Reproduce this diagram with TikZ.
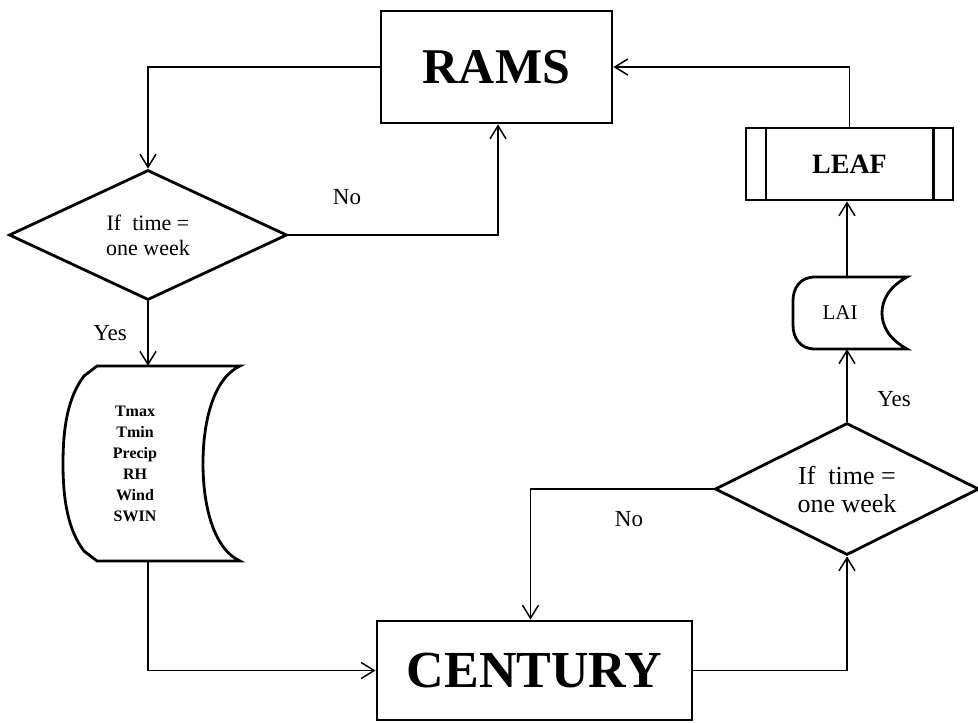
\documentclass[tikz,border=0pt]{standalone}
\usepackage{fontspec}
\setmainfont{Liberation Serif}
\usetikzlibrary{arrows.meta,shapes.geometric}
\begin{document}
\begin{tikzpicture}[x=1pt,y=-1pt,
  >={Straight Barb[length=13pt,width=16pt,line width=1.5pt]},
  conn/.style={line width=1.5pt,->},
  procbox/.style={draw,line width=2.8pt,rectangle,inner sep=0pt},
  decision/.style={draw,line width=2.8pt,diamond,aspect=2.1,inner sep=0pt,align=center},
  shapeline/.style={draw,line width=2.8pt,line join=miter},
  lbl/.style={font=\fontsize{23}{26}\selectfont,inner sep=0pt}]
\useasboundingbox (0,0) rectangle (978,723);

% nodes
\node[procbox,minimum width=231pt,minimum height=112pt,font=\fontsize{50}{54}\selectfont\bfseries] (rams) at (496.5,67) {RAMS};
\node[procbox,minimum width=315pt,minimum height=99pt,font=\fontsize{52}{56}\selectfont\bfseries] (century) at (534.5,670.5) {CENTURY};
\node[decision,minimum width=278pt,minimum height=130pt,font=\fontsize{22}{25}\selectfont] (d1) at (148,235) {If\ \ time =\\one week};
\node[decision,minimum width=264pt,minimum height=132pt,font=\fontsize{26}{28}\selectfont] (d2) at (847,489) {If\ \ time =\\one week};
\node[procbox,minimum width=207pt,minimum height=72pt,font=\fontsize{28}{30}\selectfont\bfseries] (leaf) at (849.5,164) {LEAF};
\draw[line width=2.2pt] ([xshift=21pt]leaf.north west) -- ([xshift=21pt]leaf.south west);
\draw[line width=2.2pt] ([xshift=-21pt]leaf.north east) -- ([xshift=-21pt]leaf.south east);

% stored data: weather
\node[inner sep=0pt,minimum height=195pt,align=center,font=\fontsize{16}{21}\selectfont\bfseries] (data) at (135,463.5) {Tmax\\Tmin\\Precip\\RH\\Wind\\SWIN};
\draw[shapeline] (97,366) -- (240,366) .. controls (214,378) and (203,420) .. (203,463.5)
  .. controls (203,507) and (214,549) .. (240,561) -- (97,561) -- (84,551)
  .. controls (68,530) and (63,500) .. (63,463.5) .. controls (63,427) and (68,397) .. (84,376) -- cycle;

% stored data: LAI
\node[inner sep=0pt,minimum height=72pt,font=\fontsize{21}{24}\selectfont] (lai) at (840,313) {LAI};
\draw[shapeline] (815,277) -- (907,277) .. controls (889,287) and (882,300) .. (882,313)
  .. controls (882,326) and (889,339) .. (907,349) -- (815,349)
  .. controls (800,349) and (793,338) .. (793,325) -- (793,301)
  .. controls (793,288) and (800,277) .. (815,277) -- cycle;

% labels
\node[lbl] (no1) at (347,197) {No};
\node[lbl] (yes1) at (110,333) {Yes};
\node[lbl] (no2) at (629,519) {No};
\node[lbl] (yes2) at (894,399) {Yes};

% connectors
\draw[conn] (rams.west) -| (d1.north);
\draw[conn] (d1.east) -| ([xshift=1.5pt]rams.south);
\draw[conn] (d1.south) -- (d1.south |- data.north);
\draw[conn] (d1.south |- data.south) |- (century.west);
\draw[conn] (century.east) -| (d2.south);
\draw[conn] (d2.west) -| ([xshift=-4pt]century.north);
\draw[conn] (d2.north) -- (d2.north |- lai.south);
\draw[conn] (d2.north |- lai.north) -- (d2.north |- leaf.south);
\draw[conn] (leaf.north) |- (rams.east);
\end{tikzpicture}
\end{document}
